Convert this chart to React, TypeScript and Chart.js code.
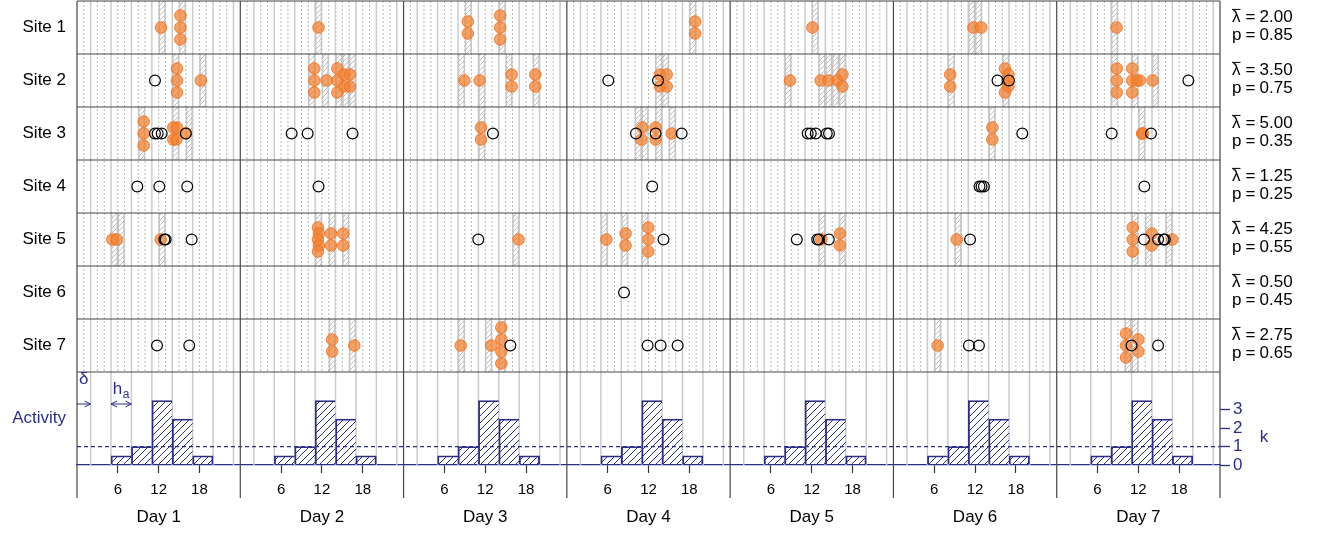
import React, { useEffect, useRef } from 'react';
import { Chart, registerables } from 'chart.js';

Chart.register(...registerables);

// ---------------- data ----------------
const SITES = ['Site 1', 'Site 2', 'Site 3', 'Site 4', 'Site 5', 'Site 6', 'Site 7'];
const DAYS = ['Day 1', 'Day 2', 'Day 3', 'Day 4', 'Day 5', 'Day 6', 'Day 7'];
const LAMBDA_BAR = [2.0, 3.5, 5.0, 1.25, 4.25, 0.5, 2.75];
const P_VALUES = [0.85, 0.75, 0.35, 0.25, 0.55, 0.45, 0.65];
const HOUR_TICKS = [6, 12, 18];
const K_TICKS = [0, 1, 2, 3];
const K_THRESHOLD = 1;
const DELTA = 2; // offset of activity bins (hours)
const BIN_WIDTH = 3; // h_a (hours)
const ACTIVITY_BIN_STARTS = [5, 8, 11, 14, 17];
const ACTIVITY_HEIGHTS = [0.5, 1, 3.5, 2.5, 0.5];

// detections: [day, hour, stack lane]
const site1Detections = [
  [1, 12.35, 0], [1, 15.2, 2], [1, 15.2, 0], [1, 15.2, -2], [2, 11.5, 0],
  [3, 9.45, 1], [3, 9.45, -1], [3, 14.2, 2], [3, 14.2, 0], [3, 14.2, -2],
  [4, 18.85, 1], [4, 18.85, -1], [5, 12.1, 0], [6, 11.75, 0], [6, 12.9, 0], [7, 8.8, 0],
];
const site2Detections = [
  [1, 14.7, 2], [1, 14.7, 0], [1, 14.7, -2], [1, 18.2, 0],
  [2, 10.88, 2], [2, 10.88, 0], [2, 10.88, -2], [2, 12.68, 0], [2, 14.26, 2], [2, 14.26, 0], [2, 14.26, -2],
  [2, 15.29, 1], [2, 15.29, -1], [2, 16.12, 1], [2, 16.12, -1],
  [3, 8.93, 0], [3, 11.18, 0], [3, 15.88, 1], [3, 15.88, -1], [3, 19.36, 1], [3, 19.36, -1],
  [4, 13.7, 1], [4, 13.7, -1], [4, 14.67, 1], [4, 14.67, -1],
  [5, 8.8, 0], [5, 13.3, 0], [5, 14.47, 0], [5, 15.8, 0], [5, 16.5, 1], [5, 16.5, -1],
  [6, 8.35, 1], [6, 8.35, -1], [6, 16.4, 2], [6, 16.9, 1], [6, 16.75, 0], [6, 16.9, -1], [6, 16.4, -2],
  [7, 8.82, 2], [7, 8.82, 0], [7, 8.82, -2], [7, 11.1, 2], [7, 11.1, 0], [7, 11.1, -2],
  [7, 11.75, 0], [7, 12.2, 0], [7, 14.1, 0],
];
const site3Detections = [
  [1, 9.8, 2], [1, 9.8, 0], [1, 9.8, -2], [1, 14.15, 1], [1, 14.15, -1], [1, 14.7, 1], [1, 14.6, -1], [1, 16.0, 0],
  [3, 11.38, 1], [3, 11.38, -1],
  [4, 11.1, 1], [4, 10.95, -1], [4, 13.05, 1], [4, 13.05, -1], [4, 15.4, 0],
  [6, 14.54, 1], [6, 14.54, -1], [7, 12.55, 0], [7, 12.7, 0],
];
const site4Detections: number[][] = [];
const site5Detections = [
  [1, 5.19, 0], [1, 5.83, 0], [1, 12.3, 0],
  [2, 11.42, 2], [2, 11.55, 1], [2, 11.42, 0], [2, 11.55, -1], [2, 11.42, -2],
  [2, 13.33, 1], [2, 13.33, -1], [2, 15.14, 1], [2, 15.14, -1],
  [3, 16.9, 0], [4, 5.8, 0], [4, 8.63, 1], [4, 8.63, -1], [4, 11.97, 2], [4, 11.97, 0], [4, 11.97, -2],
  [5, 13.4, 0], [5, 16.14, 1], [5, 16.14, -1], [6, 9.3, 0],
  [7, 11.17, 2], [7, 11.17, 0], [7, 11.17, -2], [7, 13.96, 1], [7, 13.96, -1], [7, 17.0, 0],
];
const site6Detections: number[][] = [];
const site7Detections = [
  [2, 13.5, 1], [2, 13.5, -1], [2, 16.76, 0],
  [3, 8.4, 0], [3, 12.9, 0], [3, 14.37, 3], [3, 14.37, 1], [3, 14.37, -1], [3, 14.37, -3],
  [6, 6.5, 0], [7, 10.19, 2], [7, 10.19, 0], [7, 10.19, -2], [7, 12.0, 1], [7, 12.0, -1],
];

// non-detections: [day, hour]
const site1Others: number[][] = [];
const site2Others = [[1, 11.46], [4, 6.09], [4, 13.4], [6, 15.3], [6, 16.98], [7, 19.35]];
const site3Others = [
  [1, 11.46], [1, 11.86], [1, 12.45], [1, 16.0], [2, 7.55], [2, 9.9], [2, 16.5], [3, 13.14],
  [4, 10.16], [4, 13.05], [4, 16.87], [5, 11.4], [5, 11.85], [5, 12.58], [5, 14.2], [5, 14.53],
  [6, 18.94], [7, 8.08], [7, 13.86],
];
const site4Others = [[1, 8.86], [1, 12.1], [1, 16.2], [2, 11.5], [4, 12.55], [6, 12.65], [6, 12.95], [6, 13.3], [7, 12.88]];
const site5Others = [
  [1, 12.84], [1, 13.03], [1, 16.85], [3, 10.98], [4, 14.2], [5, 9.8], [5, 12.8], [5, 13.05], [5, 14.5],
  [6, 11.26], [7, 12.83], [7, 14.9], [7, 15.7], [7, 15.9],
];
const site6Others = [[4, 8.4]];
const site7Others = [[1, 11.76], [1, 16.5], [3, 15.7], [4, 11.87], [4, 13.78], [4, 16.28], [6, 11.1], [6, 12.57], [7, 11.0], [7, 14.9]];

// hatched detection hours: [day, hour start]
const site1Hatches = [[1, 12], [1, 15], [2, 11], [3, 9], [3, 14], [4, 18], [5, 12], [6, 11], [6, 12], [7, 8]];
const site2Hatches = [
  [1, 14], [1, 18], [2, 10], [2, 12], [2, 14], [2, 15], [2, 16], [3, 8], [3, 11], [3, 15], [3, 19],
  [4, 13], [4, 14], [5, 8], [5, 13], [5, 14], [5, 15], [5, 16], [6, 8], [6, 16], [7, 8], [7, 11], [7, 14],
];
const site3Hatches = [[1, 9], [1, 14], [1, 16], [3, 11], [4, 10], [4, 11], [4, 13], [4, 15], [6, 14], [7, 12]];
const site4Hatches: number[][] = [];
const site5Hatches = [[1, 5], [1, 6], [1, 12], [2, 11], [2, 13], [2, 15], [3, 16], [4, 5], [4, 8], [4, 11], [5, 13], [5, 16], [6, 9], [7, 11], [7, 13], [7, 16]];
const site6Hatches: number[][] = [];
const site7Hatches = [[2, 13], [2, 16], [3, 8], [3, 12], [3, 14], [6, 6], [7, 10], [7, 11]];

const SITE_DETECTIONS = [site1Detections, site2Detections, site3Detections, site4Detections, site5Detections, site6Detections, site7Detections];
const SITE_OTHERS = [site1Others, site2Others, site3Others, site4Others, site5Others, site6Others, site7Others];
const SITE_HATCHES = [site1Hatches, site2Hatches, site3Hatches, site4Hatches, site5Hatches, site6Hatches, site7Hatches];

// ---------------- style / layout ----------------
const FONT = '"Liberation Sans", Arial, Helvetica, sans-serif';
const NAVY = '#2c2e83';
const ROWS = SITES.length;
const HOURS = DAYS.length * 24;
const ACT_ROWS = 93 / 53; // activity panel height in site-row units
const LANE_STEP = 0.113; // vertical stacking step in row units
const K_MAX = 25.2;

const siteCenter = (s: number) => ROWS - s - 0.5;
const weekHour = (day: number, hour: number) => (day - 1) * 24 + hour;

function makeHatch(ctx: CanvasRenderingContext2D, color: string, size: number, lw: number) {
  const c = document.createElement('canvas');
  c.width = size;
  c.height = size;
  const g = c.getContext('2d')!;
  g.strokeStyle = color;
  g.lineWidth = lw;
  g.beginPath();
  g.moveTo(0, size);
  g.lineTo(size, 0);
  g.moveTo(-1, 1);
  g.lineTo(1, -1);
  g.moveTo(size - 1, size + 1);
  g.lineTo(size + 1, size - 1);
  g.stroke();
  return ctx.createPattern(c, 'repeat')!;
}

const panelPlugin = {
  id: 'panelPlugin',
  beforeDatasetsDraw(chart: any) {
    const { ctx } = chart;
    const x = chart.scales.x;
    const ys = chart.scales.ys;
    const yk = chart.scales.yk;
    const top = ys.getPixelForValue(ROWS);
    const siteBottom = ys.getPixelForValue(0);
    const base = yk.getPixelForValue(0);
    ctx.save();
    for (let h = 1; h < HOURS; h++) {
      const hd = h % 24;
      if (hd === 0) continue;
      const px = x.getPixelForValue(h);
      ctx.beginPath();
      if ((hd - DELTA) % BIN_WIDTH === 0) {
        ctx.strokeStyle = '#cbcbcb';
        ctx.lineWidth = 1.5;
        ctx.setLineDash([]);
        ctx.moveTo(px, top);
        ctx.lineTo(px, base);
      } else {
        ctx.strokeStyle = '#b8b8b8';
        ctx.lineWidth = 1;
        ctx.setLineDash([2, 2]);
        ctx.moveTo(px, top);
        ctx.lineTo(px, siteBottom);
      }
      ctx.stroke();
    }
    ctx.restore();
  },
  afterDatasetsDraw(chart: any) {
    const { ctx, chartArea } = chart;
    const x = chart.scales.x;
    const ys = chart.scales.ys;
    ctx.save();
    ctx.strokeStyle = '#474747';
    ctx.lineWidth = 1.2;
    for (let r = 0; r <= ROWS; r++) {
      const py = ys.getPixelForValue(r);
      ctx.beginPath();
      ctx.moveTo(chartArea.left, py);
      ctx.lineTo(chartArea.right, py);
      ctx.stroke();
    }
    for (let d = 0; d <= DAYS.length; d++) {
      const px = x.getPixelForValue(d * 24);
      ctx.beginPath();
      ctx.moveTo(px, chartArea.top);
      ctx.lineTo(px, chartArea.bottom + 33);
      ctx.stroke();
    }
    ctx.restore();
  },
  afterDraw(chart: any) {
    const { ctx, chartArea } = chart;
    const x = chart.scales.x;
    const ys = chart.scales.ys;
    const yk = chart.scales.yk;
    ctx.save();
    // right-hand labels
    ctx.fillStyle = '#000';
    ctx.font = `17px ${FONT}`;
    ctx.textAlign = 'left';
    ctx.textBaseline = 'alphabetic';
    const lx = chartArea.right + 12;
    SITES.forEach((_, s) => {
      const cy = ys.getPixelForValue(siteCenter(s));
      const b1 = cy - 5.3;
      const b2 = cy + 12.3;
      ctx.fillText('λ', lx, b1);
      const lw = ctx.measureText('λ').width;
      ctx.beginPath();
      ctx.strokeStyle = '#000';
      ctx.lineWidth = 1;
      ctx.moveTo(lx, b1 - 12.8);
      ctx.lineTo(lx + lw, b1 - 12.8);
      ctx.stroke();
      ctx.fillText('=', lx + 13.5, b1);
      ctx.fillText(LAMBDA_BAR[s].toFixed(2), lx + 27.5, b1);
      ctx.fillText('p', lx, b2);
      ctx.fillText('=', lx + 13.5, b2);
      ctx.fillText(P_VALUES[s].toFixed(2), lx + 27.5, b2);
    });
    // k axis title
    ctx.fillStyle = NAVY;
    ctx.textAlign = 'center';
    ctx.textBaseline = 'middle';
    ctx.fillText('k', chartArea.right + 44, yk.getPixelForValue(1.5));
    // delta and h_a annotations
    const base = yk.getPixelForValue(0);
    const ay = base - 61;
    ctx.strokeStyle = NAVY;
    ctx.lineWidth = 1;
    const x0 = x.getPixelForValue(0);
    const x1 = x.getPixelForValue(DELTA);
    const h0 = x.getPixelForValue(ACTIVITY_BIN_STARTS[0]);
    const h1 = x.getPixelForValue(ACTIVITY_BIN_STARTS[0] + BIN_WIDTH);
    const head = (tx: number, dir: number) => {
      ctx.beginPath();
      ctx.moveTo(tx - dir * 6, ay - 3);
      ctx.lineTo(tx, ay);
      ctx.lineTo(tx - dir * 6, ay + 3);
      ctx.stroke();
    };
    ctx.beginPath();
    ctx.moveTo(x0, ay);
    ctx.lineTo(x1, ay);
    ctx.stroke();
    head(x1, 1);
    ctx.beginPath();
    ctx.moveTo(h0, ay);
    ctx.lineTo(h1, ay);
    ctx.stroke();
    head(h1, 1);
    head(h0, -1);
    ctx.textBaseline = 'alphabetic';
    ctx.font = `17px ${FONT}`;
    ctx.fillText('δ', (x0 + x1) / 2, base - 81);
    const hm = (h0 + h1) / 2;
    ctx.textAlign = 'right';
    ctx.fillText('h', hm + 1, base - 71);
    ctx.textAlign = 'left';
    ctx.font = `12px ${FONT}`;
    ctx.fillText('a', hm + 1.5, base - 67.5);
    ctx.restore();
  },
};

export default function App() {
  const ref = useRef<HTMLCanvasElement>(null);
  useEffect(() => {
    document.body.style.margin = '0';
    const canvas = ref.current!;
    const ctx = canvas.getContext('2d')!;
    const grayHatch = makeHatch(ctx, '#bdbdbd', 5, 1);
    const navyHatch = makeHatch(ctx, NAVY, 7, 1);

    const orangeData = SITE_DETECTIONS.flatMap((arr, s) =>
      arr.map(([d, h, l]) => ({ x: weekHour(d, h), y: siteCenter(s) + l * LANE_STEP }))
    );
    const otherData = SITE_OTHERS.flatMap((arr, s) => arr.map(([d, h]) => ({ x: weekHour(d, h), y: siteCenter(s) })));
    const hatchData = SITE_HATCHES.flatMap((arr, s) =>
      arr.map(([d, h]) => ({ x: weekHour(d, h) + 0.5, y: [ROWS - s - 1, ROWS - s] }))
    );
    const histData = DAYS.flatMap((_, d) =>
      ACTIVITY_BIN_STARTS.map((b, i) => ({ x: d * 24 + b + BIN_WIDTH / 2, y: ACTIVITY_HEIGHTS[i] }))
    );

    const zeroPad = (s: any) => {
      s.paddingTop = 0;
      s.paddingBottom = 0;
      s.paddingLeft = 0;
      s.paddingRight = 0;
    };

    const chart = new Chart(canvas, {
      type: 'scatter',
      data: {
        datasets: [
          {
            type: 'scatter',
            label: 'other',
            data: otherData,
            xAxisID: 'x',
            yAxisID: 'ys',
            pointRadius: 5.4,
            pointBackgroundColor: 'rgba(0,0,0,0)',
            pointBorderColor: '#000',
            pointBorderWidth: 1.2,
            order: 1,
          } as any,
          {
            type: 'scatter',
            label: 'detections',
            data: orangeData,
            xAxisID: 'x',
            yAxisID: 'ys',
            pointRadius: 5.8,
            pointBackgroundColor: 'rgba(243,128,48,0.72)',
            pointBorderColor: 'rgba(238,112,30,0.85)',
            pointBorderWidth: 1,
            order: 2,
          },
          {
            type: 'line',
            label: 'threshold',
            data: [{ x: 0, y: K_THRESHOLD }, { x: HOURS, y: K_THRESHOLD }],
            xAxisID: 'xh',
            yAxisID: 'yk',
            borderColor: NAVY,
            borderWidth: 1.2,
            borderDash: [4, 3],
            pointRadius: 0,
            order: 3,
          },
          {
            type: 'bar',
            label: 'activity',
            data: histData,
            xAxisID: 'xh',
            yAxisID: 'yk',
            backgroundColor: navyHatch,
            borderColor: NAVY,
            borderSkipped: false,
            borderWidth: (c: any) => ({ left: 1.2, top: 1.2, bottom: 0, right: c.dataIndex % ACTIVITY_BIN_STARTS.length === ACTIVITY_BIN_STARTS.length - 1 ? 1.2 : 0 }),
            barPercentage: 1,
            categoryPercentage: 1,
            grouped: false,
            order: 5,
          } as any,
          {
            type: 'bar',
            label: 'hatch',
            data: hatchData,
            xAxisID: 'x',
            yAxisID: 'ys',
            backgroundColor: grayHatch,
            borderColor: '#c6c6c6',
            borderSkipped: false,
            borderWidth: { left: 1, right: 1, top: 0, bottom: 0 },
            barPercentage: 1,
            categoryPercentage: 1,
            grouped: false,
            order: 6,
          } as any,
        ],
      },
      options: {
        responsive: false,
        animation: false,
        devicePixelRatio: 1,
        layout: { autoPadding: false, padding: { top: 1, left: 0, right: 0, bottom: 0 } },
        plugins: { legend: { display: false }, tooltip: { enabled: false } },
        events: [],
        scales: {
          x: {
            type: 'linear',
            axis: 'x',
            position: 'bottom',
            weight: 0,
            min: 0,
            max: HOURS,
            offset: false,
            afterBuildTicks: (s: any) => {
              s.ticks = DAYS.flatMap((_, d) => HOUR_TICKS.map((t) => ({ value: d * 24 + t })));
            },
            ticks: {
              autoSkip: false,
              maxRotation: 0,
              minRotation: 0,
              padding: 8,
              color: '#000',
              font: { size: 15, family: FONT },
              callback: (v: any) => String(Math.round(v) % 24),
            },
            grid: { display: true, drawOnChartArea: false, drawTicks: true, tickLength: 8, tickColor: '#333', tickWidth: 1.2, offset: false },
            border: { display: true, color: NAVY, width: 1.3 },
            afterFit: (s: any) => {
              s.height = 34;
              zeroPad(s);
            },
          },
          xd: {
            type: 'linear',
            axis: 'x',
            position: 'bottom',
            weight: 1,
            min: 0,
            max: HOURS,
            offset: false,
            afterBuildTicks: (s: any) => {
              s.ticks = DAYS.map((_, d) => ({ value: d * 24 + 12 }));
            },
            ticks: {
              autoSkip: false,
              maxRotation: 0,
              minRotation: 0,
              padding: 8,
              color: '#000',
              font: { size: 17, family: FONT },
              callback: (_v: any, i: number) => DAYS[i],
            },
            grid: { display: false, drawTicks: false, offset: false },
            border: { display: false },
            afterFit: (s: any) => {
              s.height = 34;
              zeroPad(s);
            },
          },
          xh: {
            type: 'linear',
            axis: 'x',
            position: 'bottom',
            display: false,
            min: 0,
            max: HOURS,
            offset: false,
            ticks: { stepSize: 24 },
            grid: { offset: false },
          },
          ys: {
            type: 'linear',
            axis: 'y',
            position: 'left',
            min: -ACT_ROWS,
            max: ROWS,
            bounds: 'data',
            afterBuildTicks: (s: any) => {
              s.ticks = SITES.map((_, i) => ({ value: siteCenter(i) })).concat([{ value: -ACT_ROWS / 2 }]);
            },
            ticks: {
              autoSkip: false,
              padding: 11,
              font: { size: 17, family: FONT },
              color: (c: any) => (c.index === SITES.length ? NAVY : '#000'),
              callback: (_v: any, i: number) => (i < SITES.length ? SITES[i] : 'Activity'),
            },
            grid: { display: false, drawTicks: false },
            border: { display: false },
            afterFit: (s: any) => {
              s.width = 77;
              zeroPad(s);
            },
          },
          yk: {
            type: 'linear',
            axis: 'y',
            position: 'right',
            min: 0,
            max: K_MAX,
            bounds: 'data',
            afterBuildTicks: (s: any) => {
              s.ticks = K_TICKS.map((v) => ({ value: v }));
            },
            ticks: {
              autoSkip: false,
              padding: 3,
              color: NAVY,
              font: { size: 17, family: FONT },
              callback: (v: any) => String(v),
            },
            grid: { display: true, drawOnChartArea: false, drawTicks: true, tickLength: 10, tickColor: NAVY, tickWidth: 1.3 },
            border: { display: false },
            afterFit: (s: any) => {
              s.width = 105;
              zeroPad(s);
            },
          },
        },
      } as any,
      plugins: [panelPlugin],
    });
    return () => chart.destroy();
  }, []);
  return (
    <div style={{ width: 1325, height: 533 }}>
      <canvas ref={ref} width={1325} height={533} style={{ display: 'block', width: 1325, height: 533 }} />
    </div>
  );
}
